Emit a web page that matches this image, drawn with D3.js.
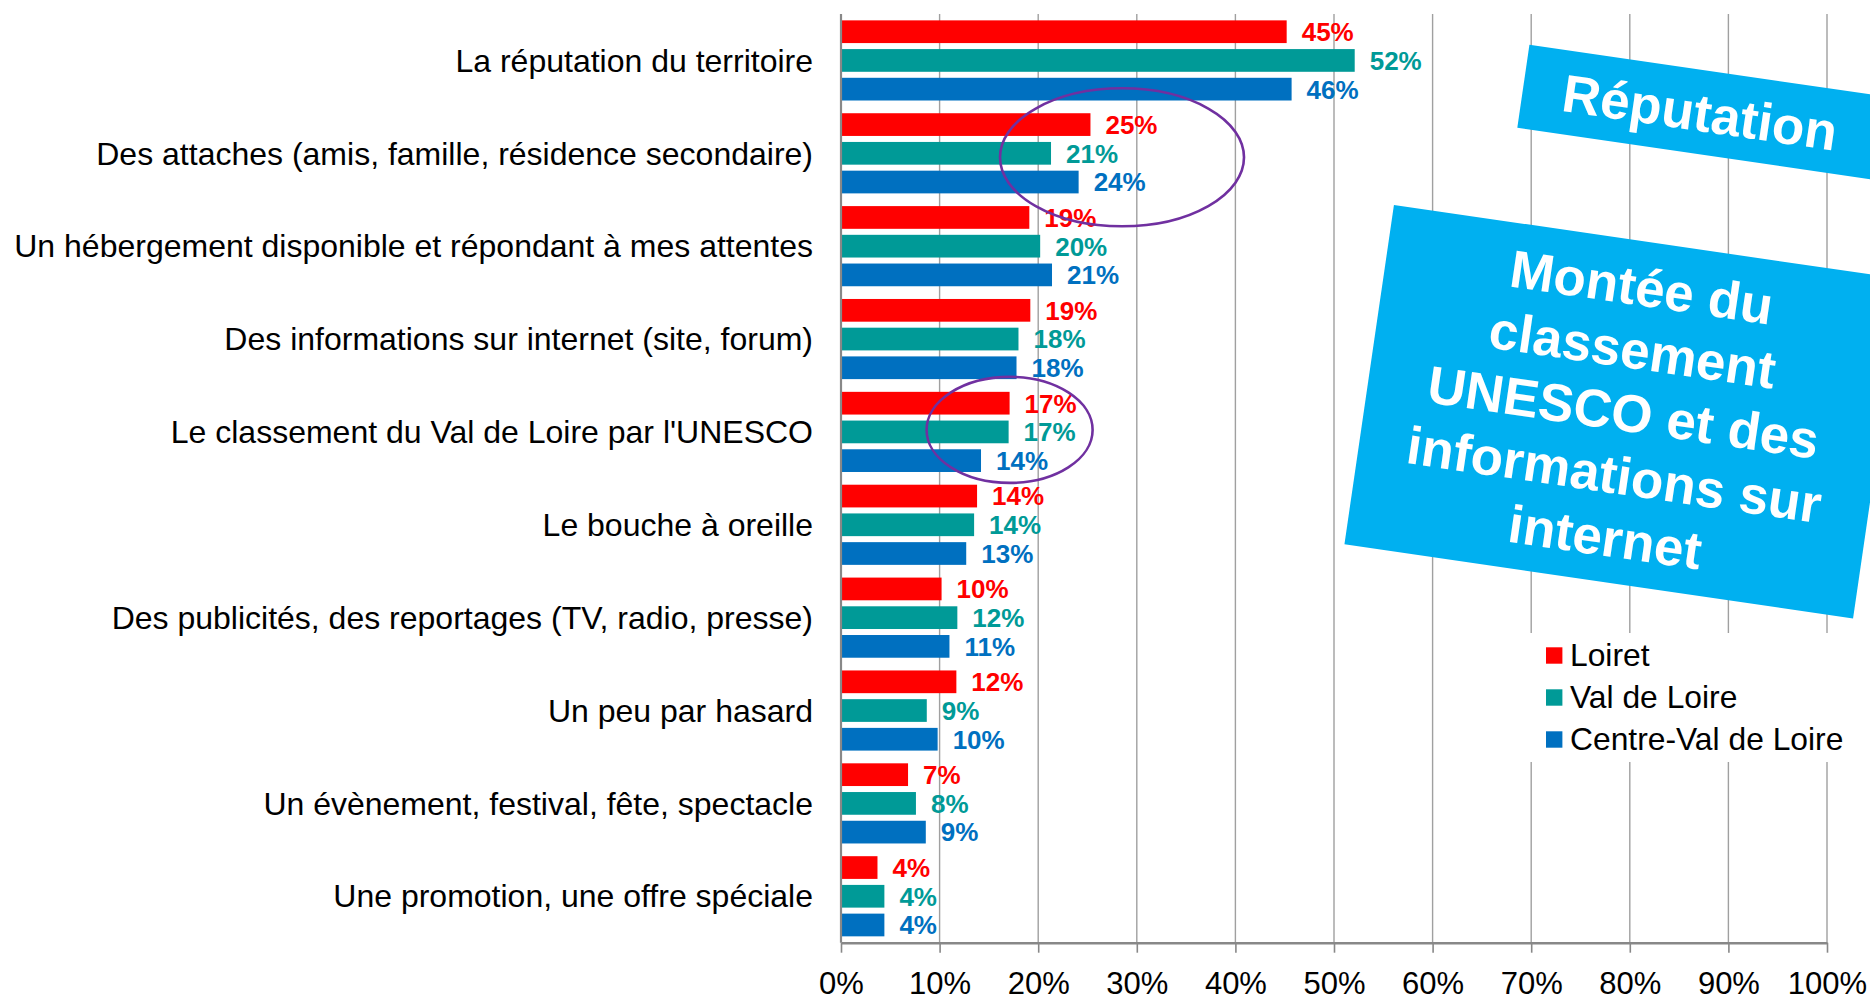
<!DOCTYPE html>
<html>
<head>
<meta charset="utf-8">
<script src="https://cdn.jsdelivr.net/npm/d3@7"></script>
<style>
body { margin: 0; background: #fff; }
svg { display: block; font-family: "Liberation Sans", Arial, sans-serif; }
</style>
</head>
<body>
<div id="chart"></div>
<script>
var categories = [
	"La réputation du territoire",
	"Des attaches (amis, famille, résidence secondaire)",
	"Un hébergement disponible et répondant à mes attentes",
	"Des informations sur internet (site, forum)",
	"Le classement du Val de Loire par l'UNESCO",
	"Le bouche à oreille",
	"Des publicités, des reportages (TV, radio, presse)",
	"Un peu par hasard",
	"Un évènement, festival, fête, spectacle",
	"Une promotion, une offre spéciale"
];
var series = ["Loiret", "Val de Loire", "Centre-Val de Loire"];
var loiret     = [45.2, 25.3, 19.1, 19.2, 17.1, 13.8, 10.2, 11.7, 6.8, 3.7];
var valDeLoire = [52.1, 21.3, 20.2, 18.0, 17.0, 13.5, 11.8, 8.7, 7.6, 4.4];
var centreVal  = [45.7, 24.1, 21.4, 17.8, 14.2, 12.7, 11.0, 9.8, 8.6, 4.4];
var xTicks = [0, 10, 20, 30, 40, 50, 60, 70, 80, 90, 100];
var colors = ["#ff0000", "#009a97", "#0070c0"];

// circled groups: category + value at the centre of the ellipse
var circled = [
	{ cat: 1, value: 28.5, rx: 122, ry: 69, dy: 4 },
	{ cat: 4, value: 17.1, rx: 83, ry: 53, dy: -2 }
];
var boxes = [
	{ lines: ["Réputation"], cx: 1700, cy: 112, w: 357, h: 84 },
	{ lines: ["Montée du", "classement", "UNESCO et des", "informations sur", "internet"], cx: 1623.5, cy: 411.7, w: 514, h: 343 }
];

var width = 1870, height = 996;
var plotLeft = 841, plotRight = 1827, plotTop = 14, plotBottom = 942.7;

var svg = d3.select("#chart").append("svg")
	.attr("width", width)
	.attr("height", height);

var x = d3.scaleLinear().domain([0, 100]).range([plotLeft, plotRight]);

var y0 = d3.scaleBand()
	.domain(d3.range(categories.length))
	.range([plotTop, plotBottom])
	.paddingInner(0.137)
	.paddingOuter(0.0685);

var y1 = d3.scaleBand()
	.domain(d3.range(series.length))
	.range([0, y0.bandwidth()])
	.paddingInner(0.209);

var seriesValues = [loiret, valDeLoire, centreVal];

// gridlines
svg.append("g").selectAll("line")
	.data(xTicks.slice(1))
	.enter().append("line")
	.attr("x1", function(d) { return x(d); })
	.attr("x2", function(d) { return x(d); })
	.attr("y1", plotTop)
	.attr("y2", plotBottom)
	.attr("stroke", "#a0a0a0")
	.attr("stroke-width", 1.4);

// bars
var group = svg.append("g").selectAll("g")
	.data(categories)
	.enter().append("g")
	.attr("transform", function(d, i) { return "translate(0," + y0(i) + ")"; });

group.selectAll("rect")
	.data(function(d, i) { return seriesValues.map(function(s) { return s[i]; }); })
	.enter().append("rect")
	.attr("x", x(0))
	.attr("y", function(d, j) { return y1(j); })
	.attr("width", function(d) { return x(d) - x(0); })
	.attr("height", y1.bandwidth())
	.attr("fill", function(d, j) { return colors[j]; });

group.selectAll("text")
	.data(function(d, i) { return seriesValues.map(function(s) { return s[i]; }); })
	.enter().append("text")
	.attr("x", function(d) { return x(d) + 15; })
	.attr("y", function(d, j) { return y1(j) + y1.bandwidth() / 2; })
	.attr("dy", "0.36em")
	.attr("fill", function(d, j) { return colors[j]; })
	.style("font-size", "26px")
	.style("font-weight", "bold")
	.text(function(d) { return Math.round(d) + "%"; });

// category labels
svg.append("g").selectAll("text")
	.data(categories)
	.enter().append("text")
	.attr("x", 813)
	.attr("y", function(d, i) { return y0(i) + y0.bandwidth() / 2; })
	.attr("dy", "0.35em")
	.attr("text-anchor", "end")
	.style("font-size", "32px")
	.text(function(d) { return d; });

// axes
var xAxis = svg.append("g")
	.attr("transform", "translate(0," + plotBottom + ")")
	.call(d3.axisBottom(x).tickValues(xTicks).tickSize(10).tickSizeOuter(0)
		.tickFormat(function(d) { return d + "%"; }));
xAxis.select(".domain").attr("stroke", "#888").attr("stroke-width", 2.6);
xAxis.selectAll(".tick line").attr("stroke", "#888").attr("stroke-width", 1.6);
xAxis.selectAll(".tick text")
	.attr("y", 51)
	.attr("dy", null)
	.attr("fill", "#000")
	.style("font-size", "31px")
	.style("font-family", "'Liberation Sans', Arial, sans-serif");

svg.append("line")
	.attr("x1", x(0)).attr("x2", x(0))
	.attr("y1", plotTop).attr("y2", plotBottom)
	.attr("stroke", "#888")
	.attr("stroke-width", 2.2);

// ellipses
svg.append("g").selectAll("ellipse")
	.data(circled)
	.enter().append("ellipse")
	.attr("cx", function(d) { return x(d.value); })
	.attr("cy", function(d) { return y0(d.cat) + y0.bandwidth() / 2 + d.dy; })
	.attr("rx", function(d) { return d.rx; })
	.attr("ry", function(d) { return d.ry; })
	.attr("fill", "none")
	.attr("stroke", "#7030a0")
	.attr("stroke-width", 2.6);

// legend
var legend = svg.append("g");
legend.append("rect")
	.attr("x", 1522).attr("y", 633)
	.attr("width", width - 1522).attr("height", 129)
	.attr("fill", "#fff");
var item = legend.selectAll("g")
	.data(series)
	.enter().append("g")
	.attr("transform", function(d, i) { return "translate(1546," + (655.5 + i * 42) + ")"; });
item.append("rect")
	.attr("x", 0).attr("y", -8.2)
	.attr("width", 16.4).attr("height", 16.4)
	.attr("fill", function(d, i) { return colors[i]; });
item.append("text")
	.attr("x", 24)
	.attr("dy", "0.34em")
	.style("font-size", "31.8px")
	.text(function(d) { return d; });

// rotated call-out boxes
var box = svg.append("g").selectAll("g")
	.data(boxes)
	.enter().append("g")
	.attr("transform", function(d) { return "translate(" + d.cx + "," + d.cy + ") rotate(8.3)"; });
box.append("rect")
	.attr("x", function(d) { return -d.w / 2; })
	.attr("y", function(d) { return -d.h / 2; })
	.attr("width", function(d) { return d.w; })
	.attr("height", function(d) { return d.h; })
	.attr("fill", "#00b0f0");
box.each(function(d) {
	var n = d.lines.length;
	d3.select(this).selectAll("text")
		.data(d.lines)
		.enter().append("text")
		.attr("x", 0)
		.attr("y", function(t, k) { return (k - (n - 1) / 2) * 63.2 + 19; })
		.attr("text-anchor", "middle")
		.attr("fill", "#fff")
		.style("font-size", "53px")
		.style("font-weight", "bold")
		.text(function(t) { return t; });
});
</script>
</body>
</html>
